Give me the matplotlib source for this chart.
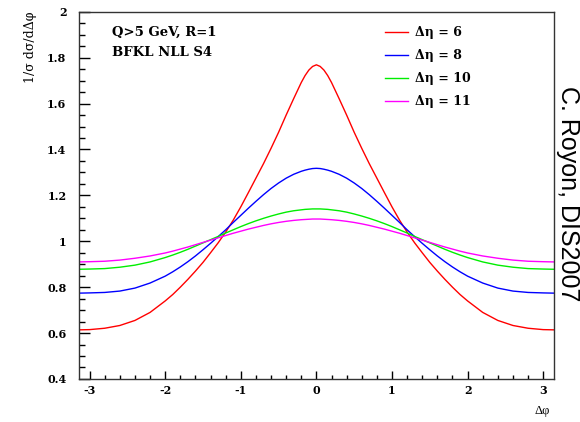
import matplotlib
matplotlib.use("Agg")
import matplotlib.pyplot as plt
from matplotlib.ticker import MultipleLocator, FuncFormatter

# delta phi points
dphi = [-3.1416, -3.0, -2.8, -2.6, -2.4, -2.2, -2.0, -1.9, -1.8, -1.7, -1.6, -1.5,
        -1.4, -1.3, -1.2, -1.1, -1.0, -0.9, -0.8, -0.7, -0.6, -0.5, -0.4, -0.3,
        -0.2, -0.15, -0.1, -0.05, 0.0, 0.05, 0.1, 0.15, 0.2, 0.3, 0.4, 0.5,
        0.6, 0.7, 0.8, 0.9, 1.0, 1.1, 1.2, 1.3, 1.4, 1.5, 1.6, 1.7,
        1.8, 1.9, 2.0, 2.2, 2.4, 2.6, 2.8, 3.0, 3.1416]

deta6 = [0.614, 0.615, 0.621, 0.633, 0.655, 0.690, 0.740, 0.768, 0.800, 0.834, 0.870, 0.908,
         0.950, 0.993, 1.040, 1.092, 1.150, 1.212, 1.275, 1.338, 1.405, 1.475, 1.550, 1.622,
         1.692, 1.722, 1.746, 1.762, 1.769, 1.762, 1.746, 1.722, 1.692, 1.622, 1.550, 1.475,
         1.405, 1.338, 1.275, 1.212, 1.150, 1.092, 1.040, 0.993, 0.950, 0.908, 0.870, 0.834,
         0.800, 0.768, 0.740, 0.690, 0.655, 0.633, 0.621, 0.615, 0.614]

deta8 = [0.774, 0.775, 0.777, 0.783, 0.796, 0.818, 0.848, 0.867, 0.888, 0.911, 0.936, 0.963,
         0.991, 1.020, 1.050, 1.082, 1.113, 1.144, 1.174, 1.203, 1.230, 1.254, 1.275, 1.292,
         1.305, 1.310, 1.314, 1.317, 1.318, 1.317, 1.314, 1.310, 1.305, 1.292, 1.275, 1.254,
         1.230, 1.203, 1.174, 1.144, 1.113, 1.082, 1.050, 1.020, 0.991, 0.963, 0.936, 0.911,
         0.888, 0.867, 0.848, 0.818, 0.796, 0.783, 0.777, 0.775, 0.774]

deta10 = [0.878, 0.879, 0.881, 0.887, 0.896, 0.910, 0.929, 0.940, 0.952, 0.965, 0.979, 0.993,
          1.007, 1.021, 1.036, 1.050, 1.064, 1.077, 1.089, 1.100, 1.110, 1.119, 1.127, 1.133,
          1.137, 1.139, 1.140, 1.141, 1.141, 1.141, 1.140, 1.139, 1.137, 1.133, 1.127, 1.119,
          1.110, 1.100, 1.089, 1.077, 1.064, 1.050, 1.036, 1.021, 1.007, 0.993, 0.979, 0.965,
          0.952, 0.940, 0.929, 0.910, 0.896, 0.887, 0.881, 0.879, 0.878]

deta11 = [0.910, 0.911, 0.913, 0.918, 0.926, 0.936, 0.949, 0.957, 0.966, 0.975, 0.985, 0.995,
          1.005, 1.015, 1.025, 1.035, 1.044, 1.053, 1.061, 1.069, 1.076, 1.082, 1.087, 1.091,
          1.094, 1.095, 1.096, 1.097, 1.097, 1.097, 1.096, 1.095, 1.094, 1.091, 1.087, 1.082,
          1.076, 1.069, 1.061, 1.053, 1.044, 1.035, 1.025, 1.015, 1.005, 0.995, 0.985, 0.975,
          0.966, 0.957, 0.949, 0.936, 0.926, 0.918, 0.913, 0.911, 0.910]

labels = ["\u0394\u03b7 = 6", "\u0394\u03b7 = 8", "\u0394\u03b7 = 10", "\u0394\u03b7 = 11"]
colors = ["#ff0000", "#0000ff", "#00ee00", "#ff00ff"]

plt.rcParams["font.family"] = "DejaVu Serif"

fig = plt.figure(figsize=(5.8, 4.22), dpi=100)
ax = fig.add_axes([0.136, 0.102, 0.819, 0.870])

for ys, lab, col in zip([deta6, deta8, deta10, deta11], labels, colors):
    ax.plot(dphi, ys, color=col, lw=1.0, label=lab)

ax.set_xlim(-3.1416, 3.1416)
ax.set_ylim(0.4, 2.0)

# ROOT-like ticks: inside, only left and bottom
ax.xaxis.set_major_locator(MultipleLocator(1))
ax.xaxis.set_minor_locator(MultipleLocator(0.2))
ax.yaxis.set_major_locator(MultipleLocator(0.2))
ax.yaxis.set_minor_locator(MultipleLocator(0.05))
ax.xaxis.set_major_formatter(FuncFormatter(lambda v, p: "%d" % round(v)))
ax.yaxis.set_major_formatter(FuncFormatter(lambda v, p: "%g" % round(v, 2)))
ax.tick_params(axis="x", which="major", direction="in", length=6, width=1, pad=4)
ax.tick_params(axis="x", which="minor", direction="in", length=3, width=1)
ax.tick_params(axis="y", which="major", direction="in", length=8, width=1, pad=9)
ax.tick_params(axis="y", which="minor", direction="in", length=4, width=1)
for lab in ax.get_xticklabels() + ax.get_yticklabels():
    lab.set_fontweight("bold")
    lab.set_fontsize(8)
for sp in ax.spines.values():
    sp.set_linewidth(1.0)
    sp.set_color("#333333")

ax.set_ylabel("1/\u03c3 d\u03c3/d\u0394\u03c6", fontsize=9, loc="top")
ax.yaxis.set_label_coords(-0.088, 1.0)
ax.set_xlabel("\u0394\u03c6", fontsize=9, family="Liberation Serif")
ax.xaxis.set_label_coords(0.975, -0.072)

ax.text(0.069, 0.945, "Q>5 GeV, R=1", transform=ax.transAxes, fontsize=9.5,
        fontweight="bold", va="center")
ax.text(0.069, 0.888, "BFKL NLL S4", transform=ax.transAxes, fontsize=9.5,
        fontweight="bold", va="center")

ax.legend(loc="upper left", bbox_to_anchor=(0.644, 0.961), frameon=False,
          handlelength=1.85, handletextpad=0.55, labelspacing=0.8,
          borderpad=0, borderaxespad=0, prop={"weight": "bold", "size": 9})

fig.text(0.979, 0.54, "C. Royon, DIS2007", rotation=-90, fontsize=18,
         family="Liberation Sans", ha="center", va="center")

fig.savefig("out.png", dpi=100)
